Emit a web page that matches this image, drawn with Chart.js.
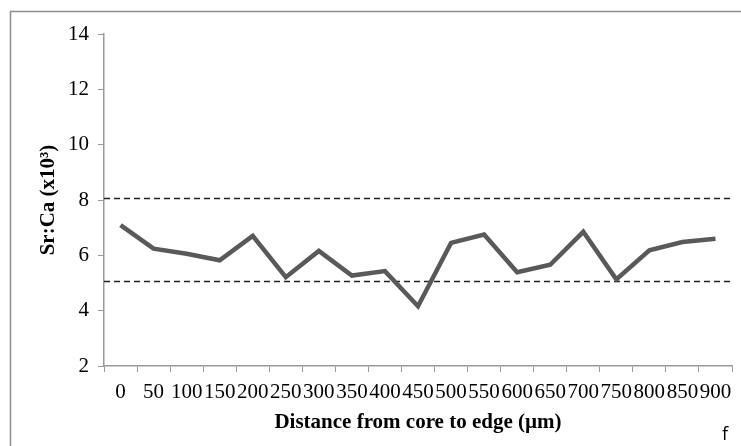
<!DOCTYPE html>
<html>
<head>
<meta charset="utf-8">
<script src="https://cdn.jsdelivr.net/npm/chart.js@4.4.0/dist/chart.umd.min.js"></script>
<style>
  html, body { margin: 0; padding: 0; background: #fff; }
  #wrap { width: 741px; height: 446px; }
</style>
</head>
<body>
<div id="wrap"><canvas id="myChart" width="741" height="446"></canvas></div>
<script>
// distance from core (µm)
const distances = ['0', '50', '100', '150', '200', '250', '300', '350', '400', '450',
  '500', '550', '600', '650', '700', '750', '800', '850', '900']
// Sr:Ca ratio (x10^3)
const srCa = [7.09, 6.24, 6.06, 5.82, 6.70, 5.21, 6.16, 5.27, 5.43, 4.16,
  6.45, 6.75, 5.39, 5.66, 6.85, 5.13, 6.18, 6.48, 6.60]
// dashed reference levels
const refLines = [8.09, 5.08]
const yTicks = [2, 4, 6, 8, 10, 12, 14]

const serif = "'Liberation Serif', 'Times New Roman', serif"

// white page, frame and the dashed levels
const extras = {
  id: 'extras',
  beforeDraw(chart) {
    const ctx = chart.ctx
    ctx.save()
    ctx.fillStyle = '#fff'
    ctx.fillRect(0, 0, chart.width, chart.height)
    ctx.strokeStyle = '#8c8c8c'
    ctx.lineWidth = 1.5
    ctx.strokeRect(10.5, 11.5, chart.width + 20, chart.height + 20)
    ctx.restore()
  },
  beforeDatasetsDraw(chart) {
    const ctx = chart.ctx
    const area = chart.chartArea
    const y = chart.scales.y
    ctx.save()
    ctx.strokeStyle = '#222'
    ctx.lineWidth = 1.5
    ctx.setLineDash([6, 4])
    refLines.forEach(v => {
      const py = Math.round(y.getPixelForValue(v)) + 0.5
      ctx.beginPath()
      ctx.moveTo(area.left, py)
      ctx.lineTo(area.right, py)
      ctx.stroke()
    })
    ctx.restore()
  },
  afterDraw(chart) {
    const ctx = chart.ctx
    ctx.save()
    ctx.fillStyle = '#000'
    ctx.font = "18px 'Open Sans', 'Liberation Sans', sans-serif"
    ctx.textAlign = 'left'
    ctx.textBaseline = 'alphabetic'
    ctx.fillText('f', 722, 440)
    ctx.restore()
  }
}

const config = {
  type: 'line',
  data: {
    labels: distances,
    datasets: [{
      data: srCa,
      borderColor: '#595959',
      borderWidth: 4.5,
      pointRadius: 0,
      tension: 0,
      fill: false
    }]
  },
  options: {
    responsive: false,
    animation: false,
    layout: { padding: { left: 0, top: 34, right: 9, bottom: 10 } },
    plugins: { legend: { display: false }, tooltip: { enabled: false } },
    scales: {
      x: {
        offset: true,
        grid: { offset: true, drawOnChartArea: false, tickLength: 6, color: '#9a9a9a' },
        border: { color: '#9a9a9a', width: 1.5 },
        ticks: { color: '#000', font: { family: serif, size: 21 }, maxRotation: 0, autoSkip: false, padding: 8 },
        title: { display: true, text: 'Distance from core to edge (\u00b5m)', color: '#000',
          font: { family: serif, size: 21, weight: 'bold' }, padding: { top: 4, bottom: 1 } },
        afterFit: s => { s.height = 70 }
      },
      y: {
        min: 2,
        max: 14,
        afterBuildTicks: s => { s.ticks = yTicks.map(v => ({ value: v })) },
        grid: { drawOnChartArea: false, tickLength: 6, color: '#9a9a9a' },
        border: { color: '#9a9a9a', width: 1.5 },
        ticks: { color: '#000', font: { family: serif, size: 21 }, padding: 9 },
        title: { display: true, text: 'Sr:Ca (x10\u00b3)', color: '#000',
          font: { family: serif, size: 21, weight: 'bold' }, padding: { top: 36, bottom: 0 } },
        afterFit: s => { s.width = 104 }
      }
    }
  },
  plugins: [extras]
}

const myChart = new Chart(document.getElementById('myChart'), config)
</script>
</body>
</html>
